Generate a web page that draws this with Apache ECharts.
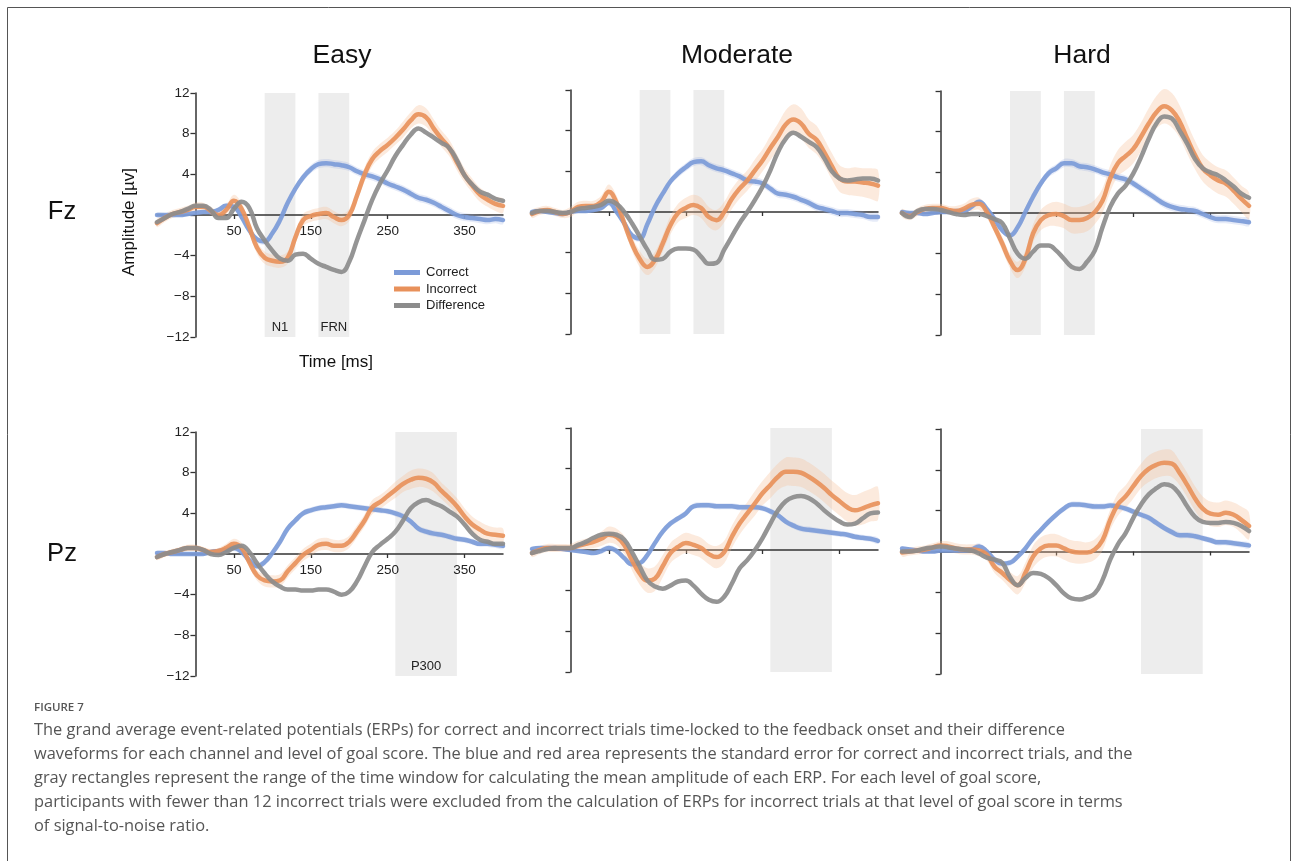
<!DOCTYPE html>
<html>
<head>
<meta charset="utf-8">
<script src="https://cdn.jsdelivr.net/npm/echarts@6/dist/echarts.min.js"></script>
<style>
html,body{margin:0;padding:0;background:#fff;}
#chart{width:1293px;height:861px;}
</style>
</head>
<body>
<div id="chart"></div>
<script>
// ---------------- DATA ----------------
const times = [-50,-40,-30,-20,-10,0,10,20,30,40,50,60,70,80,90,100,110,120,130,140,150,160,170,180,190,200,210,220,230,240,250,260,270,280,290,300,310,320,330,340,350,360,370,380,390,400];
const columns = ['Easy','Moderate','Hard'];
const channels = ['Fz','Pz'];
const seriesNames = ['Correct','Incorrect','Difference'];
const yTickLabels = [-12,-8,-4,4,8,12];
const xTickLabels = [50,150,250,350];
const fzWindows = [[90,130,'N1'],[160,200,'FRN']];
const pzWindows = [[260,340,'P300']];

// Fz
const fzEasyCorrect = [0,0,0,0,0.1,0.2,0.3,0.3,0.5,0.9, 0.8,-0.2,-1.5,-2.4,-2.6,-1.8,-0.5,1.2,2.6,3.7, 4.5,5.0,5.1,5.0,4.9,4.7,4.3,4.0,3.8,3.5, 3.1,2.8,2.5,2.1,1.7,1.5,1.2,0.8,0.4,0.0, -0.2,-0.3,-0.4,-0.5,-0.4,-0.5];
const fzEasyIncorrect = [-0.8,-0.3,0.1,0.3,0.5,0.8,0.8,0.4,0.0,0.5, 1.4,0.6,-1.2,-3.2,-4.2,-4.5,-4.6,-4.2,-2.2,-0.5, -0.1,0.1,0.2,-0.2,-0.5,0.0,1.9,4.0,5.5,6.3, 6.9,7.6,8.4,9.3,9.9,9.6,8.5,7.5,6.6,5.2, 3.9,2.9,2.0,1.5,1.1,0.9];
const fzEasyDifference = [-0.7,-0.3,0.1,0.3,0.6,0.9,0.9,0.5,-0.3,-0.3, 0.6,1.3,0.7,-1.3,-2.5,-3.5,-4.3,-4.5,-3.9,-3.8, -4.3,-4.8,-5.1,-5.4,-5.6,-4.6,-2.5,-0.5,1.5,3.1, 4.4,5.8,6.9,7.9,8.5,8.1,7.6,7.1,6.6,5.4, 3.9,3.0,2.3,2.0,1.6,1.4];
const fzEasyCorrectSE = [0.2,0.2,0.2,0.2,0.2,0.2,0.2,0.2,0.2,0.3, 0.3,0.3,0.3,0.3,0.3,0.3,0.3,0.3,0.3,0.4, 0.4,0.4,0.4,0.4,0.4,0.4,0.4,0.4,0.4,0.4, 0.4,0.4,0.4,0.4,0.4,0.4,0.4,0.4,0.4,0.4, 0.4,0.4,0.4,0.4,0.4,0.4];
const fzEasyIncorrectSE = [0.4,0.4,0.4,0.4,0.4,0.4,0.4,0.4,0.4,0.5, 0.6,0.6,0.6,0.6,0.6,0.6,0.6,0.6,0.6,0.6, 0.6,0.6,0.6,0.6,0.6,0.6,0.6,0.7,0.7,0.7, 0.7,0.7,0.8,0.8,0.9,0.9,0.9,0.8,0.8,0.8, 0.7,0.7,0.7,0.7,0.7,0.7];

const fzModerateCorrect = [0.0,0.1,0.0,-0.1,-0.2,0.0,0.1,0.1,0.2,0.4, 0.9,0.0,-1.1,-2.3,-2.6,-1.2,0.5,1.8,3.0,3.8, 4.4,4.9,5.0,4.6,4.3,4.1,3.8,3.5,3.1,3.0, 2.8,2.3,1.8,1.7,1.5,1.2,0.9,0.5,0.3,0.1, -0.1,-0.1,-0.2,-0.3,-0.5,-0.5];
const fzModerateIncorrect = [-0.2,0.1,0.2,0.0,-0.2,0.0,0.5,0.6,0.6,1.0, 2.0,0.9,-1.1,-3.1,-4.6,-5.4,-4.7,-3.1,-1.3,-0.1, 0.4,0.7,0.4,-0.5,-0.8,0.0,1.3,2.3,3.1,4.1, 5.1,6.3,7.4,8.6,9.1,8.7,7.7,7.1,5.9,4.5, 3.3,3.0,3.0,2.9,2.8,2.6];
const fzModerateDifference = [-0.1,0.1,0.1,0.0,-0.1,0.0,0.3,0.4,0.5,0.7, 1.1,0.8,0.0,-1.1,-2.4,-3.7,-4.7,-4.6,-3.9,-3.6, -3.6,-3.7,-4.4,-5.1,-5.0,-3.7,-2.4,-1.1,0.0,1.2, 2.5,4.1,5.9,7.2,7.8,7.4,6.9,6.4,5.3,4.0, 3.3,3.1,3.2,3.3,3.3,3.1];
const fzModerateCorrectSE = [0.2,0.2,0.2,0.2,0.2,0.2,0.2,0.2,0.2,0.3, 0.3,0.3,0.3,0.3,0.3,0.3,0.3,0.3,0.3,0.4, 0.4,0.4,0.4,0.4,0.4,0.4,0.4,0.4,0.4,0.4, 0.4,0.4,0.4,0.4,0.4,0.4,0.4,0.4,0.4,0.4, 0.4,0.4,0.4,0.4,0.4,0.4];
const fzModerateIncorrectSE = [0.4,0.4,0.4,0.4,0.4,0.5,0.5,0.5,0.5,0.6, 0.7,0.7,0.7,0.7,0.8,0.8,0.8,0.8,0.9,0.9, 1.0,1.0,1.0,1.0,1.0,1.0,1.0,1.0,1.0,1.1, 1.1,1.2,1.3,1.4,1.5,1.5,1.4,1.4,1.3,1.3, 1.3,1.3,1.4,1.4,1.5,1.5];

const fzHardCorrect = [0.1,0.0,0.0,-0.1,0.0,0.1,0.1,0.2,0.2,0.6, 1.1,0.4,-0.6,-1.7,-2.2,-1.4,0.1,1.6,2.9,3.9, 4.4,4.9,4.9,4.6,4.5,4.3,4.0,3.8,3.5,3.3, 2.9,2.4,1.9,1.4,0.9,0.6,0.4,0.3,0.2,-0.1, -0.4,-0.6,-0.6,-0.7,-0.8,-0.9];
const fzHardIncorrect = [0.0,-0.3,0.1,0.4,0.5,0.5,0.3,0.2,0.4,0.8, 0.9,0.1,-1.4,-3.0,-4.7,-5.6,-4.5,-2.0,-0.7,-0.2, -0.1,-0.3,-0.7,-0.7,-0.5,0.1,1.2,3.4,4.9,5.6, 6.3,7.5,8.8,9.9,10.5,10.1,9.0,7.3,5.7,4.4, 3.7,3.2,2.9,2.2,1.4,0.7];
const fzHardDifference = [0.0,-0.4,0.2,0.4,0.4,0.3,0.1,-0.1,-0.2,-0.1, -0.1,-0.3,-0.6,-1.0,-2.5,-4.0,-4.5,-3.8,-3.2,-3.2, -3.7,-4.5,-5.3,-5.5,-4.8,-3.7,-1.4,0.6,1.9,2.7, 3.9,5.5,7.3,8.8,9.5,9.3,8.1,6.8,5.3,4.4, 4.0,3.7,3.2,2.6,1.9,1.5];
const fzHardCorrectSE = [0.2,0.2,0.2,0.2,0.2,0.2,0.2,0.2,0.2,0.3, 0.3,0.3,0.3,0.3,0.3,0.3,0.3,0.3,0.3,0.4, 0.4,0.4,0.4,0.4,0.4,0.4,0.4,0.4,0.4,0.4, 0.4,0.4,0.4,0.4,0.4,0.4,0.4,0.4,0.4,0.4, 0.4,0.4,0.4,0.4,0.4,0.4];
const fzHardIncorrectSE = [0.4,0.4,0.4,0.4,0.4,0.4,0.4,0.5,0.5,0.6, 0.6,0.6,0.6,0.7,0.7,0.8,0.8,0.9,1.0,1.1, 1.2,1.2,1.3,1.3,1.3,1.2,1.2,1.3,1.3,1.4, 1.4,1.4,1.5,1.6,1.7,1.7,1.6,1.5,1.4,1.3, 1.3,1.3,1.3,1.3,1.3,1.3];

// Pz
const pzEasyCorrect = [0.1,0.1,0.0,0.0,0.0,0.0,0.0,0.2,0.3,0.4, 0.6,0.2,-0.6,-1.2,-0.8,0.1,1.2,2.5,3.3,4.0, 4.3,4.5,4.6,4.7,4.8,4.7,4.6,4.5,4.4,4.3, 4.2,4.0,3.7,3.2,2.5,2.2,2.0,1.9,1.7,1.5, 1.4,1.2,1.0,1.0,0.9,0.8];
const pzEasyIncorrect = [-0.3,0.0,0.2,0.4,0.6,0.6,0.4,0.2,0.3,0.6, 1.0,0.6,-0.8,-2.1,-2.6,-2.7,-2.6,-1.7,-0.9,-0.1, 0.4,0.9,1.0,0.8,0.8,1.2,2.2,3.3,4.6,5.1, 5.7,6.3,6.9,7.3,7.5,7.4,7.0,6.2,5.5,4.7, 3.7,2.9,2.4,2.0,1.9,1.8];
const pzEasyDifference = [-0.3,0.0,0.2,0.4,0.6,0.6,0.4,0.0,-0.1,0.2, 0.6,0.8,0.2,-0.9,-1.9,-2.7,-3.2,-3.5,-3.5,-3.6, -3.6,-3.5,-3.5,-3.7,-4.0,-3.7,-2.7,-1.2,0.2,0.9, 1.5,2.2,3.3,4.5,5.1,5.3,5.0,4.7,4.2,3.7, 2.9,2.0,1.4,1.2,1.0,1.0];
const pzEasyCorrectSE = [0.2,0.2,0.2,0.2,0.2,0.2,0.2,0.2,0.2,0.3, 0.3,0.3,0.3,0.3,0.3,0.3,0.3,0.3,0.3,0.3, 0.3,0.3,0.3,0.3,0.3,0.3,0.3,0.3,0.3,0.3, 0.3,0.3,0.3,0.3,0.3,0.3,0.3,0.3,0.3,0.3, 0.3,0.3,0.3,0.3,0.3,0.3];
const pzEasyIncorrectSE = [0.3,0.3,0.3,0.3,0.3,0.3,0.3,0.3,0.3,0.4, 0.5,0.5,0.5,0.5,0.6,0.6,0.6,0.6,0.6,0.6, 0.6,0.6,0.6,0.6,0.6,0.6,0.6,0.6,0.7,0.7, 0.7,0.8,0.8,0.9,0.9,0.9,0.9,0.8,0.8,0.8, 0.8,0.8,0.8,0.8,0.7,0.7];

const pzModerateCorrect = [0.1,0.2,0.2,0.2,0.1,0.0,-0.1,-0.2,-0.3,-0.1, 0.2,-0.1,-0.8,-1.4,-1.3,-0.5,0.7,1.8,2.6,3.1, 3.6,4.3,4.4,4.4,4.3,4.3,4.3,4.2,4.2,4.2, 4.1,3.8,3.4,2.8,2.4,2.1,2.0,1.9,1.8,1.7, 1.6,1.5,1.3,1.2,1.1,0.9];
const pzModerateIncorrect = [-0.3,0.0,0.2,0.2,0.2,0.2,0.4,0.6,0.8,1.1, 1.5,1.3,0.5,-1.0,-2.3,-3.0,-2.8,-1.6,-0.3,0.3, 0.7,0.5,0.2,-0.4,-0.7,-0.2,1.3,2.6,3.6,4.6, 5.6,6.4,7.2,7.7,7.7,7.6,7.2,6.7,6.1,5.4, 4.8,4.2,3.9,4.1,4.4,4.6];
const pzModerateDifference = [-0.3,-0.1,0.1,0.2,0.2,0.2,0.5,0.8,1.2,1.5, 1.6,1.5,1.0,-0.2,-1.6,-3.0,-3.6,-3.8,-3.5,-3.1, -3.0,-3.5,-4.3,-4.9,-5.1,-4.6,-3.3,-1.8,-1.0,0.0, 1.2,2.6,3.9,4.8,5.2,5.3,5.1,4.6,3.9,3.3, 2.8,2.5,2.6,3.1,3.6,3.7];
const pzModerateCorrectSE = [0.2,0.2,0.2,0.2,0.2,0.2,0.2,0.2,0.2,0.3, 0.3,0.3,0.3,0.3,0.3,0.3,0.3,0.3,0.3,0.3, 0.3,0.3,0.3,0.3,0.3,0.3,0.3,0.3,0.3,0.3, 0.3,0.3,0.3,0.3,0.3,0.3,0.3,0.3,0.3,0.3, 0.3,0.3,0.3,0.3,0.3,0.3];
const pzModerateIncorrectSE = [0.4,0.4,0.4,0.4,0.4,0.4,0.5,0.5,0.6,0.7, 0.8,0.8,0.9,1.0,1.1,1.2,1.2,1.1,1.0,1.0, 1.0,1.0,1.0,1.0,1.1,1.1,1.1,1.1,1.1,1.2, 1.2,1.3,1.3,1.4,1.4,1.4,1.4,1.4,1.4,1.4, 1.4,1.4,1.5,1.6,1.6,1.6];

const pzHardCorrect = [0.3,0.2,0.1,0.0,0.0,0.1,0.1,0.1,0.1,0.2, 0.5,0.0,-0.8,-1.2,-1.1,-0.5,0.3,1.3,2.1,2.9, 3.6,4.2,4.6,4.6,4.5,4.4,4.4,4.5,4.4,4.2, 3.9,3.6,3.3,2.8,2.3,1.9,1.6,1.6,1.5,1.3, 1.1,0.9,0.9,0.8,0.7,0.6];
const pzHardIncorrect = [-0.1,0.0,0.1,0.2,0.4,0.6,0.5,0.3,0.2,0.2, 0.1,-0.3,-1.5,-2.1,-2.8,-3.3,-2.1,-0.5,0.3,0.6, 0.6,0.3,0.0,-0.1,-0.1,0.2,1.1,3.1,4.6,5.4, 6.4,7.4,8.1,8.5,8.7,8.6,7.7,6.5,5.2,4.2, 3.7,3.6,3.8,3.6,3.1,2.5];
const pzHardDifference = [0.0,0.0,0.1,0.3,0.4,0.5,0.4,0.3,0.2,0.1, -0.2,-0.6,-0.8,-1.1,-2.5,-3.3,-2.6,-2.1,-2.2,-2.6, -3.3,-4.1,-4.6,-4.7,-4.5,-4.1,-2.8,-0.8,0.7,1.8, 3.3,4.6,5.6,6.2,6.6,6.4,5.6,4.4,3.4,2.9, 2.8,2.8,2.9,2.8,2.5,2.0];
const pzHardCorrectSE = [0.2,0.2,0.2,0.2,0.2,0.2,0.2,0.2,0.2,0.3, 0.3,0.3,0.3,0.3,0.3,0.3,0.3,0.3,0.3,0.3, 0.3,0.3,0.3,0.3,0.3,0.3,0.3,0.3,0.3,0.3, 0.3,0.3,0.3,0.3,0.3,0.3,0.3,0.3,0.3,0.3, 0.3,0.3,0.3,0.3,0.3,0.3];
const pzHardIncorrectSE = [0.4,0.4,0.4,0.4,0.4,0.4,0.5,0.5,0.5,0.5, 0.6,0.6,0.6,0.7,0.8,0.9,1.0,1.1,1.1,1.1, 1.1,1.1,1.1,1.1,1.0,1.0,1.0,1.0,1.1,1.1, 1.2,1.2,1.3,1.3,1.3,1.3,1.2,1.2,1.2,1.2, 1.2,1.2,1.2,1.2,1.3,1.3];

const captionLines = [
  'The grand average event-related potentials (ERPs) for correct and incorrect trials time-locked to the feedback onset and their difference',
  'waveforms for each channel and level of goal score. The blue and red area represents the standard error for correct and incorrect trials, and the',
  'gray rectangles represent the range of the time window for calculating the mean amplitude of each ERP. For each level of goal score,',
  'participants with fewer than 12 incorrect trials were excluded from the calculation of ERPs for incorrect trials at that level of goal score in terms',
  'of signal-to-noise ratio.'
];

// ---------------- LAYOUT / STYLE ----------------
const FONT = '"Liberation Sans", Arial, sans-serif';
const COLORS = { Correct: '#7c9bd8', Incorrect: '#e8915b', Difference: '#8c8c8c' };
const BAND = { Correct: 'rgba(140,165,225,0.22)', Incorrect: 'rgba(246,190,150,0.32)' };
const X_MIN = -50, X_MAX = 400, Y_MIN = -12, Y_MAX = 12;
const panels = [
  { left: 157, top: 93,  width: 346, height: 244, col: 0, c: fzEasyCorrect, i: fzEasyIncorrect, d: fzEasyDifference, cse: fzEasyCorrectSE, ise: fzEasyIncorrectSE, win: fzWindows },
  { left: 532, top: 90,  width: 346, height: 244, col: 1, c: fzModerateCorrect, i: fzModerateIncorrect, d: fzModerateDifference, cse: fzModerateCorrectSE, ise: fzModerateIncorrectSE, win: fzWindows },
  { left: 902, top: 91,  width: 347, height: 244, col: 2, c: fzHardCorrect, i: fzHardIncorrect, d: fzHardDifference, cse: fzHardCorrectSE, ise: fzHardIncorrectSE, win: fzWindows },
  { left: 157, top: 432, width: 346, height: 244, col: 0, c: pzEasyCorrect, i: pzEasyIncorrect, d: pzEasyDifference, cse: pzEasyCorrectSE, ise: pzEasyIncorrectSE, win: pzWindows },
  { left: 532, top: 428, width: 346, height: 244, col: 1, c: pzModerateCorrect, i: pzModerateIncorrect, d: pzModerateDifference, cse: pzModerateCorrectSE, ise: pzModerateIncorrectSE, win: pzWindows },
  { left: 902, top: 429, width: 347, height: 245, col: 2, c: pzHardCorrect, i: pzHardIncorrect, d: pzHardDifference, cse: pzHardCorrectSE, ise: pzHardIncorrectSE, win: pzWindows }
];

const fmtNum = v => (v < 0 ? '\u2212' + Math.abs(v) : String(v));

const grids = [], xAxes = [], yAxes = [], series = [];
panels.forEach((p, k) => {
  const showLabels = p.col === 0;
  // place the axes through the origin: shift by the pixel distance of value 0 from the grid edge
  const xOffset = -p.height * (0 - Y_MIN) / (Y_MAX - Y_MIN);
  const yOffset = -p.width * (0 - X_MIN) / (X_MAX - X_MIN);
  grids.push({ left: p.left, top: p.top, width: p.width, height: p.height, containLabel: false });
  xAxes.push({
    type: 'value', gridIndex: k, min: X_MIN, max: X_MAX, interval: 100,
    position: 'bottom', offset: xOffset,
    axisLine: { show: true, onZero: false, lineStyle: { color: '#333', width: 1.5 } },
    axisTick: { show: true, length: 4, inside: false, customValues: xTickLabels, lineStyle: { color: '#333', width: 1.3 } },
    axisLabel: { show: showLabels, customValues: xTickLabels, margin: 9, fontSize: 13.5, color: '#222', fontFamily: FONT, formatter: fmtNum },
    splitLine: { show: false }
  });
  yAxes.push({
    type: 'value', gridIndex: k, min: Y_MIN, max: Y_MAX, interval: 4,
    position: 'left', offset: yOffset,
    axisLine: { show: true, onZero: false, lineStyle: { color: '#333', width: 1.5 } },
    axisTick: { show: true, length: 5, inside: false, lineStyle: { color: '#333', width: 1.3 } },
    axisLabel: { show: showLabels, customValues: yTickLabels, margin: 6, fontSize: 13.5, color: '#222', fontFamily: FONT, formatter: fmtNum },
    splitLine: { show: false }
  });
  // gray time-window rectangles
  const wins = p.win;
  series.push({
    type: 'custom', name: 'window' + k, xAxisIndex: k, yAxisIndex: k, z: 0, silent: true,
    data: wins.map(w => [w[0], w[1]]), encode: { x: [0, 1] },
    renderItem: (params, api) => {
      const a = api.coord([api.value(0), Y_MAX]);
      const b = api.coord([api.value(1), Y_MIN]);
      const children = [{ type: 'rect', shape: { x: a[0], y: a[1], width: b[0] - a[0], height: b[1] - a[1] }, style: { fill: '#ededed' } }];
      if (showLabels) {
        children.push({ type: 'text', style: { text: wins[params.dataIndex][2], x: (a[0] + b[0]) / 2, y: b[1] - 10, align: 'center', verticalAlign: 'middle', font: '13px ' + FONT, fill: '#222' } });
      }
      return { type: 'group', children };
    }
  });
  // standard-error bands
  [['Correct', p.c, p.cse], ['Incorrect', p.i, p.ise]].forEach(([nm, mean, se]) => {
    const bd = times.map((t, j) => [t, +(mean[j] - se[j]).toFixed(2), +(mean[j] + se[j]).toFixed(2)]);
    series.push({
      type: 'custom', name: nm + ' SE ' + k, xAxisIndex: k, yAxisIndex: k, z: 1, silent: true,
      data: bd, encode: { x: 0, y: [1, 2] },
      renderItem: (params, api) => {
        if (params.dataIndex !== 0) return;
        const up = bd.map(d => api.coord([d[0], d[2]]));
        const lo = bd.map(d => api.coord([d[0], d[1]])).reverse();
        return { type: 'polygon', shape: { points: up.concat(lo), smooth: 0.35 }, style: { fill: BAND[nm] } };
      }
    });
  });
  // mean waveforms
  [['Correct', p.c], ['Incorrect', p.i], ['Difference', p.d]].forEach(([nm, arr], j) => {
    series.push({
      type: 'line', name: nm, xAxisIndex: k, yAxisIndex: k, z: 3 + j,
      data: times.map((t, m) => [t, arr[m]]),
      showSymbol: false, symbol: 'none', smooth: 0.45, silent: true,
      color: COLORS[nm],
      lineStyle: { color: COLORS[nm], width: 4.5, opacity: 0.92, cap: 'round', join: 'round' }
    });
  });
});

const graphics = [
  { type: 'rect', shape: { x: 7.5, y: 7.5, width: 1283, height: 900 }, style: { fill: 'none', stroke: '#555', lineWidth: 1 }, silent: true },
  { type: 'text', x: 342, y: 56, style: { text: columns[0], font: '26.5px ' + FONT, fill: '#111', align: 'center', verticalAlign: 'middle' } },
  { type: 'text', x: 737, y: 56, style: { text: columns[1], font: '26.5px ' + FONT, fill: '#111', align: 'center', verticalAlign: 'middle' } },
  { type: 'text', x: 1082, y: 56, style: { text: columns[2], font: '26.5px ' + FONT, fill: '#111', align: 'center', verticalAlign: 'middle' } },
  { type: 'text', x: 62, y: 212, style: { text: channels[0], font: '25.5px ' + FONT, fill: '#111', align: 'center', verticalAlign: 'middle' } },
  { type: 'text', x: 62, y: 554, style: { text: channels[1], font: '25.5px ' + FONT, fill: '#111', align: 'center', verticalAlign: 'middle' } },
  { type: 'text', x: 129, y: 222, rotation: Math.PI / 2, style: { text: 'Amplitude [\u00b5v]', font: '17px ' + FONT, fill: '#111', align: 'center', verticalAlign: 'middle' } },
  { type: 'text', x: 336, y: 362, style: { text: 'Time [ms]', font: '17px ' + FONT, fill: '#111', align: 'center', verticalAlign: 'middle' } },
  { type: 'text', x: 34, y: 708, style: { text: 'FIGURE 7', font: '600 11.5px "Open Sans", sans-serif', fill: '#555', align: 'left', verticalAlign: 'middle' } }
];
captionLines.forEach((ln, i) => {
  graphics.push({ type: 'text', x: 34, y: 730 + i * 24, style: { text: ln, font: '16.4px "Open Sans", sans-serif', fill: '#555', align: 'left', verticalAlign: 'middle' } });
});

const chart = echarts.init(document.getElementById('chart'), null, { renderer: 'canvas', width: 1293, height: 861 });
chart.setOption({
  animation: false,
  backgroundColor: '#fff',
  textStyle: { fontFamily: FONT },
  grid: grids, xAxis: xAxes, yAxis: yAxes,
  legend: {
    data: seriesNames.map(n => ({ name: n, icon: 'rect' })),
    orient: 'vertical', left: 389, top: 261, itemWidth: 26, itemHeight: 5, itemGap: 3.5,
    selectedMode: false,
    textStyle: { fontSize: 13, color: '#222', fontFamily: FONT, padding: [0, 0, 0, 1] }
  },
  series,
  graphic: graphics
});
</script>
</body>
</html>
